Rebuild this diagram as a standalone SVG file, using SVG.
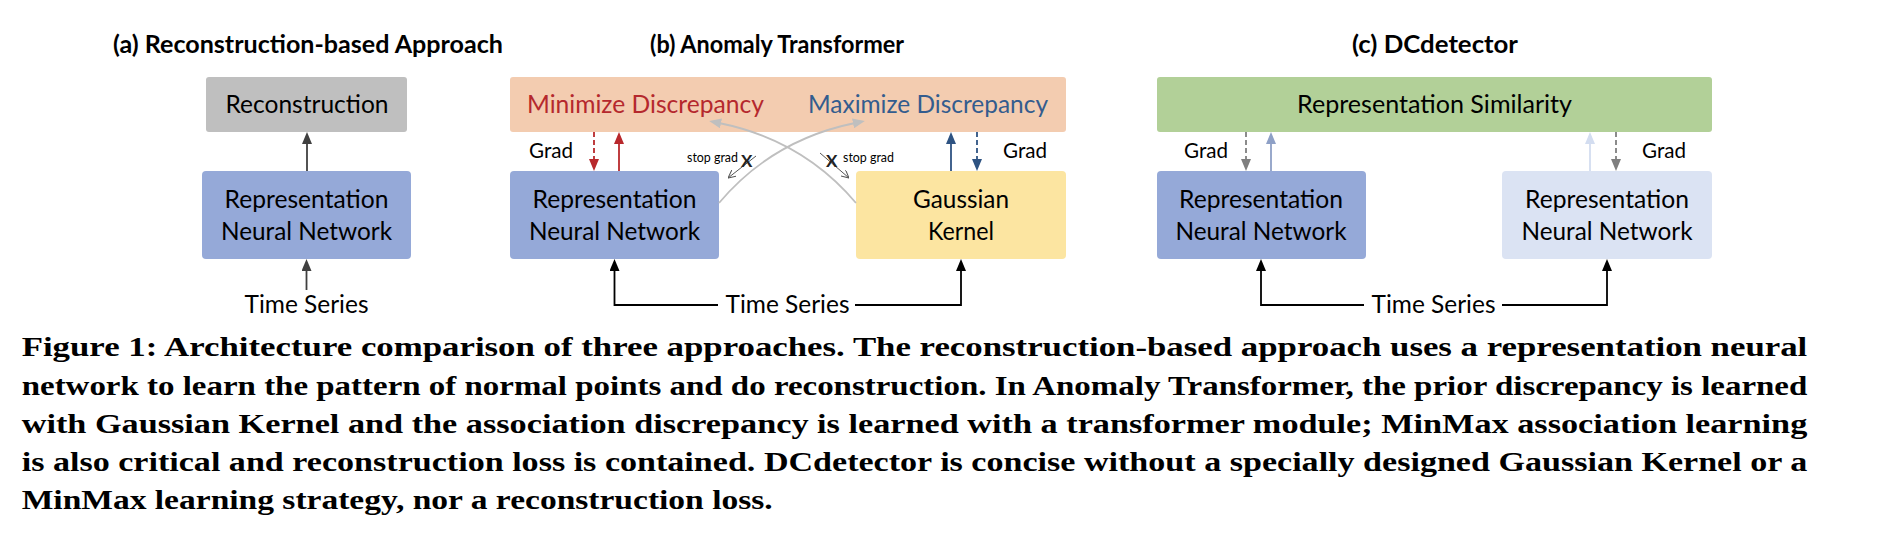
<svg xmlns="http://www.w3.org/2000/svg" width="1894" height="536" viewBox="0 0 1894 536">
<style>
  .title { font-family: "Lato", "Noto Sans", sans-serif; font-weight: bold; font-size: 24px; fill: #000; }
  .lbl { font-family: "Lato", "Noto Sans", sans-serif; font-size: 25px; fill: #000; text-anchor: middle; }
  .grad { font-family: "Lato", "Noto Sans", sans-serif; font-size: 22px; fill: #000; }
  .sg { font-family: "Lato", "Noto Sans", sans-serif; font-size: 13.5px; fill: #000; }
  .x { font-family: "Lato", "Noto Sans", sans-serif; font-size: 17px; font-weight: bold; fill: #222; }
  .cap { font-family: "Liberation Serif", "DejaVu Serif", serif; font-weight: bold; font-size: 28px; fill: #000; }
  .ln { fill: none; stroke-width: 1.8; }
  .dash { stroke-dasharray: 5 3; }
</style>
<defs>
  <marker id="mDark" viewBox="0 0 12 10" refX="2" refY="5" markerWidth="12" markerHeight="10" markerUnits="userSpaceOnUse" orient="auto"><path d="M0,0 L12,5 L0,10 z" fill="#404040"/></marker>
  <marker id="mBlack" viewBox="0 0 12 10" refX="2" refY="5" markerWidth="12" markerHeight="10" markerUnits="userSpaceOnUse" orient="auto"><path d="M0,0 L12,5 L0,10 z" fill="#000"/></marker>
  <marker id="mRed" viewBox="0 0 12 10" refX="2" refY="5" markerWidth="12" markerHeight="10" markerUnits="userSpaceOnUse" orient="auto"><path d="M0,0 L12,5 L0,10 z" fill="#b8282c"/></marker>
  <marker id="mBlue" viewBox="0 0 12 10" refX="2" refY="5" markerWidth="12" markerHeight="10" markerUnits="userSpaceOnUse" orient="auto"><path d="M0,0 L12,5 L0,10 z" fill="#2e5382"/></marker>
  <marker id="mGray" viewBox="0 0 12 10" refX="2" refY="5" markerWidth="12" markerHeight="10" markerUnits="userSpaceOnUse" orient="auto"><path d="M0,0 L12,5 L0,10 z" fill="#7f7f7f"/></marker>
  <marker id="mPeri" viewBox="0 0 12 10" refX="2" refY="5" markerWidth="12" markerHeight="10" markerUnits="userSpaceOnUse" orient="auto"><path d="M0,0 L12,5 L0,10 z" fill="#8ea0c6"/></marker>
  <marker id="mLight" viewBox="0 0 12 10" refX="2" refY="5" markerWidth="12" markerHeight="10" markerUnits="userSpaceOnUse" orient="auto"><path d="M0,0 L12,5 L0,10 z" fill="#d3ddf0"/></marker>
  <marker id="mCurve" viewBox="0 0 12 10" refX="2" refY="5" markerWidth="12" markerHeight="10" markerUnits="userSpaceOnUse" orient="auto"><path d="M0,0 L12,5 L0,10 z" fill="#bfbfbf"/></marker>
  <marker id="mThin" viewBox="0 0 8 8" refX="8" refY="4" markerWidth="8" markerHeight="8" markerUnits="userSpaceOnUse" orient="auto"><path d="M0,0 L8,4 L0,8" fill="none" stroke="#555" stroke-width="1"/></marker>
</defs>

<!-- Panel titles -->
<g id="titles">
  <text class="title" x="113" y="53" textLength="390" lengthAdjust="spacingAndGlyphs">(a) Reconstruction-based Approach</text>
  <text class="title" x="650" y="53" textLength="254" lengthAdjust="spacingAndGlyphs">(b) Anomaly Transformer</text>
  <text class="title" x="1352" y="53" textLength="166" lengthAdjust="spacingAndGlyphs">(c) DCdetector</text>
</g>

<!-- Panel (a) nodes -->
<g id="a-reconstruction">
  <rect x="206" y="77" width="201" height="55" rx="3" fill="#bfbfbf"/>
  <text class="lbl" x="307" y="113" textLength="163" lengthAdjust="spacingAndGlyphs">Reconstruction</text>
</g>
<g id="a-representation">
  <rect x="202" y="171" width="209" height="88" rx="4" fill="#95a9d8"/>
  <text class="lbl" x="306.5" y="208" textLength="164" lengthAdjust="spacingAndGlyphs">Representation</text>
  <text class="lbl" x="306.5" y="240" textLength="171" lengthAdjust="spacingAndGlyphs">Neural Network</text>
</g>
<g id="a-timeseries">
  <text class="lbl" x="306.5" y="313" textLength="124" lengthAdjust="spacingAndGlyphs">Time Series</text>
</g>

<!-- Panel (b) nodes -->
<g id="b-discrepancy">
  <rect x="510" y="77" width="556" height="55" rx="3" fill="#f3ccb0"/>
  <text class="lbl" x="645.5" y="113" textLength="237" lengthAdjust="spacingAndGlyphs" style="fill:#b5282d">Minimize Discrepancy</text>
  <text class="lbl" x="928" y="113" textLength="240" lengthAdjust="spacingAndGlyphs" style="fill:#335c8e">Maximize Discrepancy</text>
</g>
<g id="b-representation">
  <rect x="510" y="171" width="209" height="88" rx="4" fill="#95a9d8"/>
  <text class="lbl" x="614.5" y="208" textLength="164" lengthAdjust="spacingAndGlyphs">Representation</text>
  <text class="lbl" x="614.5" y="240" textLength="171" lengthAdjust="spacingAndGlyphs">Neural Network</text>
</g>
<g id="b-gaussian">
  <rect x="856" y="171" width="210" height="88" rx="4" fill="#fce5a1"/>
  <text class="lbl" x="961" y="208" textLength="96" lengthAdjust="spacingAndGlyphs">Gaussian</text>
  <text class="lbl" x="961" y="240" textLength="66" lengthAdjust="spacingAndGlyphs">Kernel</text>
</g>
<g id="b-timeseries">
  <text class="lbl" x="787.5" y="313" textLength="124" lengthAdjust="spacingAndGlyphs">Time Series</text>
</g>

<!-- Panel (c) nodes -->
<g id="c-similarity">
  <rect x="1157" y="77" width="555" height="55" rx="3" fill="#b2d098"/>
  <text class="lbl" x="1434.5" y="113" textLength="275" lengthAdjust="spacingAndGlyphs">Representation Similarity</text>
</g>
<g id="c-representation-1">
  <rect x="1157" y="171" width="209" height="88" rx="4" fill="#95a9d8"/>
  <text class="lbl" x="1261" y="208" textLength="164" lengthAdjust="spacingAndGlyphs">Representation</text>
  <text class="lbl" x="1261" y="240" textLength="171" lengthAdjust="spacingAndGlyphs">Neural Network</text>
</g>
<g id="c-representation-2">
  <rect x="1502" y="171" width="210" height="88" rx="4" fill="#dbe3f3"/>
  <text class="lbl" x="1607" y="208" textLength="164" lengthAdjust="spacingAndGlyphs">Representation</text>
  <text class="lbl" x="1607" y="240" textLength="171" lengthAdjust="spacingAndGlyphs">Neural Network</text>
</g>
<g id="c-timeseries">
  <text class="lbl" x="1433.5" y="313" textLength="124" lengthAdjust="spacingAndGlyphs">Time Series</text>
</g>

<!-- Connectors -->
<g id="connectors">
  <!-- (a) -->
  <line class="ln" x1="307" y1="171" x2="307" y2="142" stroke="#404040" marker-end="url(#mDark)"/>
  <line class="ln" x1="306.5" y1="290" x2="306.5" y2="269" stroke="#404040" marker-end="url(#mDark)"/>
  <!-- (b) vertical -->
  <line class="ln dash" x1="594" y1="132" x2="594" y2="161" stroke="#b8282c" marker-end="url(#mRed)"/>
  <line class="ln" x1="619" y1="171" x2="619" y2="142" stroke="#b8282c" marker-end="url(#mRed)"/>
  <line class="ln" x1="951" y1="171" x2="951" y2="142" stroke="#2e5382" marker-end="url(#mBlue)"/>
  <line class="ln dash" x1="977" y1="132" x2="977" y2="161" stroke="#2e5382" marker-end="url(#mBlue)"/>
  <!-- (b) crossing curves -->
  <path class="ln" d="M719,203 Q772,140 855,123" stroke="#bfbfbf" stroke-width="2" marker-end="url(#mCurve)"/>
  <path class="ln" d="M856,203 Q803,140 719,123" stroke="#bfbfbf" stroke-width="2" marker-end="url(#mCurve)"/>
  <!-- stop-grad thin arrows -->
  <line x1="756" y1="156" x2="728" y2="178" stroke="#555" stroke-width="1" marker-end="url(#mThin)"/>
  <line x1="820" y1="153" x2="849" y2="178" stroke="#555" stroke-width="1" marker-end="url(#mThin)"/>
  <!-- (b) time series -->
  <path class="ln" d="M718,305 H614.5 V269" stroke="#000" marker-end="url(#mBlack)"/>
  <path class="ln" d="M855,305 H961 V269" stroke="#000" marker-end="url(#mBlack)"/>
  <!-- (c) vertical -->
  <line class="ln dash" x1="1246" y1="132" x2="1246" y2="161" stroke="#7f7f7f" marker-end="url(#mGray)"/>
  <line class="ln" x1="1271" y1="171" x2="1271" y2="142" stroke="#8ea0c6" marker-end="url(#mPeri)"/>
  <line class="ln" x1="1590" y1="171" x2="1590" y2="142" stroke="#d3ddf0" marker-end="url(#mLight)"/>
  <line class="ln dash" x1="1616" y1="132" x2="1616" y2="161" stroke="#7f7f7f" marker-end="url(#mGray)"/>
  <!-- (c) time series -->
  <path class="ln" d="M1364,305 H1261 V269" stroke="#000" marker-end="url(#mBlack)"/>
  <path class="ln" d="M1502,305 H1607 V269" stroke="#000" marker-end="url(#mBlack)"/>
</g>

<!-- Connector labels -->
<g id="connector-labels">
  <text class="grad" x="529" y="158" textLength="44" lengthAdjust="spacingAndGlyphs">Grad</text>
  <text class="grad" x="1003" y="158" textLength="44" lengthAdjust="spacingAndGlyphs">Grad</text>
  <text class="grad" x="1184" y="158" textLength="44" lengthAdjust="spacingAndGlyphs">Grad</text>
  <text class="grad" x="1642" y="158" textLength="44" lengthAdjust="spacingAndGlyphs">Grad</text>
  <text class="sg" x="687" y="162" textLength="51" lengthAdjust="spacingAndGlyphs">stop grad</text>
  <text class="x" x="741" y="167">X</text>
  <text class="x" x="826" y="167">X</text>
  <text class="sg" x="843" y="162" textLength="51" lengthAdjust="spacingAndGlyphs">stop grad</text>
</g>

<!-- Caption -->
<g id="caption">
  <text class="cap" x="21.7" y="356" textLength="1785.6" lengthAdjust="spacingAndGlyphs">Figure 1: Architecture comparison of three approaches. The reconstruction-based approach uses a representation neural</text>
  <text class="cap" x="21.7" y="394.5" textLength="1785.6" lengthAdjust="spacingAndGlyphs">network to learn the pattern of normal points and do reconstruction. In Anomaly Transformer, the prior discrepancy is learned</text>
  <text class="cap" x="21.7" y="432.8" textLength="1785.6" lengthAdjust="spacingAndGlyphs">with Gaussian Kernel and the association discrepancy is learned with a transformer module; MinMax association learning</text>
  <text class="cap" x="21.7" y="471" textLength="1785.6" lengthAdjust="spacingAndGlyphs">is also critical and reconstruction loss is contained. DCdetector is concise without a specially designed Gaussian Kernel or a</text>
  <text class="cap" x="21.7" y="509.3" textLength="751" lengthAdjust="spacingAndGlyphs">MinMax learning strategy, nor a reconstruction loss.</text>
</g>
</svg>
